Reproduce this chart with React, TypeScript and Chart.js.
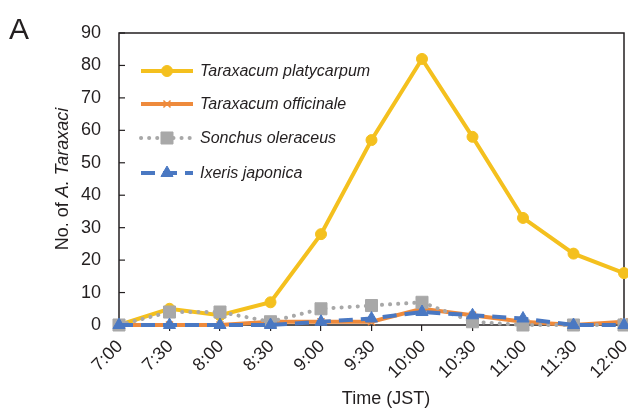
import React, { useEffect, useRef } from "react";
import { Chart, registerables } from "chart.js";
import { drawPoint } from "chart.js/helpers";

Chart.register(...registerables);

const times = ["7:00", "7:30", "8:00", "8:30", "9:00", "9:30", "10:00", "10:30", "11:00", "11:30", "12:00"];
const platycarpum = [0, 5, 3, 7, 28, 57, 82, 58, 33, 22, 16];
const officinale = [0, 0, 0, 1, 1, 1, 5, 3, 1, 0, 1];
const oleraceus = [0, 4, 4, 1, 5, 6, 7, 1, 0, 0, 0];
const japonica = [0, 0, 0, 0, 1, 2, 4, 3, 2, 0, 0];
const seriesNames = ["Taraxacum platycarpum", "Taraxacum officinale", "Sonchus oleraceus", "Ixeris japonica"];
const yTicks = [0, 10, 20, 30, 40, 50, 60, 70, 80, 90];

const FONT = "'Liberation Sans', Arial, sans-serif";
const INK = "#231f20";
const YELLOW = "#F4C01E";
const ORANGE = "#EE8A3C";
const GRAY = "#A8A8A8";
const BLUE = "#4A78C2";

const decorPlugin = {
  id: "decor",
  beforeDatasetsDraw(chart: any) {
    const { ctx, chartArea } = chart;
    const ys = chart.scales.y;
    ctx.save();
    ctx.strokeStyle = INK;
    ctx.lineWidth = 1.5;
    ctx.strokeRect(chartArea.left, chartArea.top, chartArea.right - chartArea.left, chartArea.bottom - chartArea.top);
    ctx.lineWidth = 1.2;
    yTicks.forEach((v) => {
      const py = ys.getPixelForValue(v);
      ctx.beginPath();
      ctx.moveTo(chartArea.left, py);
      ctx.lineTo(chartArea.left + 6, py);
      ctx.stroke();
    });
    ctx.restore();
  },
  afterDraw(chart: any) {
    const { ctx, chartArea } = chart;
    ctx.save();
    ctx.fillStyle = INK;
    ctx.font = `30px ${FONT}`;
    ctx.textAlign = "left";
    ctx.textBaseline = "alphabetic";
    ctx.fillText("A", 9, 39);

    ctx.font = `18px ${FONT}`;
    ctx.textAlign = "center";
    ctx.textBaseline = "middle";
    ctx.fillText("Time (JST)", 386, 399);

    const part1 = "No. of ";
    const part2 = "A. Taraxaci";
    ctx.font = `18px ${FONT}`;
    const w1 = ctx.measureText(part1).width;
    ctx.font = `italic 18px ${FONT}`;
    const w2 = ctx.measureText(part2).width;
    const total = w1 + w2;
    ctx.translate(63, (chartArea.top + chartArea.bottom) / 2);
    ctx.rotate(-Math.PI / 2);
    ctx.textAlign = "left";
    ctx.font = `18px ${FONT}`;
    ctx.fillText(part1, -total / 2, 0);
    ctx.font = `italic 18px ${FONT}`;
    ctx.fillText(part2, -total / 2 + w1, 0);
    ctx.restore();

    ctx.save();
    const rows = [71, 104, 138, 173];
    chart.data.datasets.forEach((ds: any, i: number) => {
      const y = rows[i];
      ctx.save();
      ctx.strokeStyle = ds.borderColor;
      ctx.lineWidth = ds.borderWidth;
      ctx.lineCap = ds.borderCapStyle || "butt";
      ctx.setLineDash(ds.borderDash || []);
      ctx.beginPath();
      ctx.moveTo(141, y);
      ctx.lineTo(193, y);
      ctx.stroke();
      ctx.restore();
      ctx.save();
      ctx.setLineDash([]);
      ctx.fillStyle = ds.pointBackgroundColor;
      ctx.strokeStyle = ds.pointBorderColor;
      ctx.lineWidth = ds.pointBorderWidth;
      drawPoint(ctx, { pointStyle: ds.pointStyle, radius: ds.pointRadius, borderWidth: ds.pointBorderWidth, rotation: 0 } as any, 167, y);
      ctx.restore();
      ctx.fillStyle = INK;
      ctx.font = `italic 16px ${FONT}`;
      ctx.textAlign = "left";
      ctx.textBaseline = "middle";
      ctx.fillText(seriesNames[i], 200, y + 1);
    });
    ctx.restore();
  },
};

export default function App() {
  const ref = useRef<HTMLCanvasElement | null>(null);
  useEffect(() => {
    if (!ref.current) return;
    const mk = (label: string, data: number[], color: string, extra: any) => ({
      label,
      data,
      borderColor: color,
      backgroundColor: color,
      pointBackgroundColor: color,
      pointBorderColor: color,
      borderWidth: 4,
      pointBorderWidth: 1,
      tension: 0,
      clip: false,
      ...extra,
    });
    const chart = new Chart(ref.current, {
      type: "line",
      data: {
        labels: times,
        datasets: [
          mk(seriesNames[0], platycarpum, YELLOW, { pointStyle: "circle", pointRadius: 5.5, order: 4 }),
          mk(seriesNames[1], officinale, ORANGE, { pointStyle: "crossRot", pointRadius: 5, pointBorderWidth: 1.5, order: 3 }),
          mk(seriesNames[2], oleraceus, GRAY, { pointStyle: "rect", pointRadius: 8.5, borderWidth: 4, borderDash: [0.1, 8], borderCapStyle: "round", order: 2 }),
          mk(seriesNames[3], japonica, BLUE, { pointStyle: "triangle", pointRadius: 7, borderDash: [14, 8], order: 1 }),
        ],
      },
      options: {
        responsive: false,
        animation: false,
        layout: { autoPadding: false, padding: { top: 33, right: 4, left: 0, bottom: 0 } },
        plugins: { legend: { display: false }, tooltip: { enabled: false } },
        scales: {
          x: {
            offset: false,
            border: { display: false },
            grid: { display: true, drawOnChartArea: false, drawTicks: true, tickLength: 6, color: INK, lineWidth: 1.2 },
            ticks: { color: INK, font: { family: FONT, size: 18 }, minRotation: 45, maxRotation: 45, padding: 5, labelOffset: 1, autoSkip: false },
            afterFit: (s: any) => { s.height = 87; s.paddingLeft = 0; s.paddingRight = 0; },
          },
          y: {
            min: 0,
            max: 90,
            border: { display: false },
            grid: { display: false, drawTicks: false },
            ticks: { stepSize: 10, color: INK, font: { family: FONT, size: 18 }, padding: 18 },
            afterFit: (s: any) => { s.width = 119; s.paddingTop = 0; s.paddingBottom = 0; },
          },
        },
      },
      plugins: [decorPlugin],
    } as any);
    return () => chart.destroy();
  }, []);
  return (
    <div style={{ position: "fixed", left: 0, top: 0, width: 628, height: 412, background: "#fff" }}>
      <canvas ref={ref} width={628} height={412} />
    </div>
  );
}
